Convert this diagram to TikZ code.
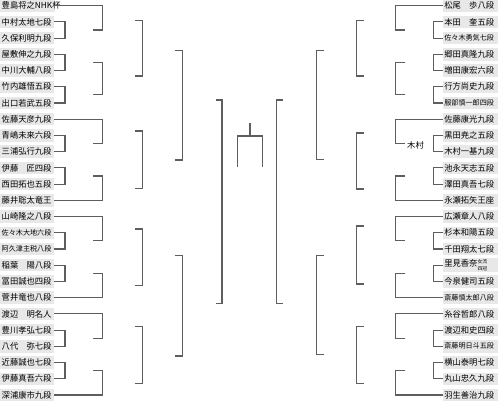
\documentclass[tikz,border=0pt]{standalone}
\usepackage{fontspec}
\usetikzlibrary{calc}
\newfontfamily\jp{Noto Sans CJK JP}
\definecolor{boxgray}{HTML}{E8E8E8}
\definecolor{lncol}{HTML}{5E5E5E}
\newcommand\mkpairL[2]{\draw[br] (L#1.east) -| (c1 |- L#2.east) -- (L#2.east);}
\newcommand\mkpairR[2]{\draw[br] (R#1.west) -| (c1r |- R#2.west) -- (R#2.west);}
\newcommand\grpAL[3]{\coordinate (mL#2) at ($(L#2.east)!.5!(L#3.east)$);
  \draw[br] (L#1.east) -| (c2 |- mL#2) -- (c2s |- mL#2);}
\newcommand\grpBL[4]{\coordinate (mL#1) at ($(L#1.east)!.5!(L#2.east)$);
  \coordinate (mL#3) at ($(L#3.east)!.5!(L#4.east)$);
  \draw[br] (c2s |- mL#1) -- (c2 |- mL#1) -- (c2 |- mL#3) -- (c2s |- mL#3);}
\newcommand\grpCL[3]{\coordinate (mL#1) at ($(L#1.east)!.5!(L#2.east)$);
  \draw[br] (c2s |- mL#1) -- (c2 |- mL#1) |- (L#3.east);}
\newcommand\grpAR[3]{\coordinate (mR#2) at ($(R#2.west)!.5!(R#3.west)$);
  \draw[br] (R#1.west) -| (c2r |- mR#2) -- (c2sr |- mR#2);}
\newcommand\grpBR[4]{\coordinate (mR#1) at ($(R#1.west)!.5!(R#2.west)$);
  \coordinate (mR#3) at ($(R#3.west)!.5!(R#4.west)$);
  \draw[br] (c2sr |- mR#1) -- (c2r |- mR#1) -- (c2r |- mR#3) -- (c2sr |- mR#3);}
\newcommand\grpCR[3]{\coordinate (mR#1) at ($(R#1.west)!.5!(R#2.west)$);
  \draw[br] (c2sr |- mR#1) -- (c2r |- mR#1) |- (R#3.west);}
\newcommand\bkt[4]{\draw[br] (#1,#3) -- (#2,#3) -- (#2,#4) -- (#1,#4);}
\begin{document}
\begin{tikzpicture}[x=1pt,y=-1pt,
  nm/.style={fill=boxgray, inner xsep=1.5pt, inner ysep=0pt, minimum height=12.5pt,
    text width=50.5pt, align=left, font=\jp\fontsize{8.3}{10}\selectfont, anchor=west},
  nmr/.style={nm, anchor=east, text width=52pt},
  sm/.style={font=\jp\fontsize{7.1}{9}\selectfont},
  br/.style={draw=lncol, line width=1.1pt}]
\useasboundingbox (0,0) rectangle (499,402);
% columns
\coordinate (c1) at (65,0);
\coordinate (c2) at (102.7,0);
\coordinate (c2s) at (93.3,0);
\coordinate (c1r) at (433.3,0);
\coordinate (c2r) at (395.5,0);
\coordinate (c2sr) at (405,0);
% left names
\node[nm, text width=52pt] (L0) at (0,5.7) {豊島将之NHK杯};
\node[nm] (L1) at (0,21.9) {中村太地七段};
\node[nm] (L2) at (0,38.1) {久保利明九段};
\node[nm] (L3) at (0,54.4) {屋敷伸之九段};
\node[nm] (L4) at (0,70.6) {中川大輔八段};
\node[nm] (L5) at (0,86.8) {竹内雄悟五段};
\node[nm] (L6) at (0,103.0) {出口若武五段};
\node[nm] (L7) at (0,119.2) {佐藤天彦九段};
\node[nm] (L8) at (0,135.5) {青嶋未来六段};
\node[nm] (L9) at (0,151.7) {三浦弘行九段};
\node[nm] (L10) at (0,167.9) {伊藤　匠四段};
\node[nm] (L11) at (0,184.1) {西田拓也五段};
\node[nm] (L12) at (0,200.3) {藤井聡太竜王};
\node[nm] (L13) at (0,216.6) {山崎隆之八段};
\node[nm, sm] (L14) at (0,232.8) {佐々木大地六段};
\node[nm, sm] (L15) at (0,249.0) {阿久津主税八段};
\node[nm] (L16) at (0,265.2) {稲葉　陽八段};
\node[nm] (L17) at (0,281.4) {冨田誠也四段};
\node[nm] (L18) at (0,297.7) {菅井竜也八段};
\node[nm] (L19) at (0,313.9) {渡辺　明名人};
\node[nm] (L20) at (0,330.1) {豊川孝弘七段};
\node[nm] (L21) at (0,346.3) {八代　弥七段};
\node[nm] (L22) at (0,362.5) {近藤誠也七段};
\node[nm] (L23) at (0,378.8) {伊藤真吾六段};
\node[nm] (L24) at (0,395.0) {深浦康市九段};
% right names
\node[nmr] (R0) at (498,5.7) {松尾　歩八段};
\node[nmr] (R1) at (498,21.9) {本田　奎五段};
\node[nmr, sm] (R2) at (498,38.1) {佐々木勇気七段};
\node[nmr] (R3) at (498,54.4) {郷田真隆九段};
\node[nmr] (R4) at (498,70.6) {増田康宏六段};
\node[nmr] (R5) at (498,86.8) {行方尚史九段};
\node[nmr, sm] (R6) at (498,103.0) {服部慎一郎四段};
\node[nmr] (R7) at (498,119.2) {佐藤康光九段};
\node[nmr] (R8) at (498,135.5) {黒田尭之五段};
\node[nmr] (R9) at (498,151.7) {木村一基九段};
\node[nmr] (R10) at (498,167.9) {池永天志五段};
\node[nmr] (R11) at (498,184.1) {澤田真吾七段};
\node[nmr] (R12) at (498,200.3) {永瀬拓矢王座};
\node[nmr] (R13) at (498,216.6) {広瀬章人八段};
\node[nmr] (R14) at (498,232.8) {杉本和陽五段};
\node[nmr] (R15) at (498,249.0) {千田翔太七段};
\node[nmr] (R16) at (498,265.2) {里見香奈{\fontsize{4.8}{7}\selectfont\begin{tabular}[c]{@{}c@{}}女流\\四冠\end{tabular}}};
\node[nmr] (R17) at (498,281.4) {今泉健司五段};
\node[nmr, sm] (R18) at (498,297.7) {斎藤慎太郎八段};
\node[nmr] (R19) at (498,313.9) {糸谷哲郎八段};
\node[nmr] (R20) at (498,330.1) {渡辺和史四段};
\node[nmr, sm] (R21) at (498,346.3) {斎藤明日斗五段};
\node[nmr] (R22) at (498,362.5) {横山泰明七段};
\node[nmr] (R23) at (498,378.8) {丸山忠久九段};
\node[nmr] (R24) at (498,395.0) {羽生善治九段};
% first round pairs
\mkpairL{1}{2}\mkpairL{3}{4}\mkpairL{5}{6}\mkpairL{8}{9}\mkpairL{10}{11}
\mkpairL{14}{15}\mkpairL{16}{17}\mkpairL{20}{21}\mkpairL{22}{23}
\mkpairR{1}{2}\mkpairR{3}{4}\mkpairR{5}{6}\mkpairR{8}{9}\mkpairR{10}{11}
\mkpairR{14}{15}\mkpairR{16}{17}\mkpairR{20}{21}\mkpairR{22}{23}
% second column
\grpAL{0}{1}{2}\grpBL{3}{4}{5}{6}\grpAL{7}{8}{9}\grpCL{10}{11}{12}
\grpAL{13}{14}{15}\grpCL{16}{17}{18}\grpAL{19}{20}{21}\grpCL{22}{23}{24}
\grpAR{0}{1}{2}\grpBR{3}{4}{5}{6}\grpAR{7}{8}{9}\grpCR{10}{11}{12}
\grpAR{13}{14}{15}\grpCR{16}{17}{18}\grpAR{19}{20}{21}\grpCR{22}{23}{24}
\node[anchor=west, inner sep=0pt, font=\jp\fontsize{8.3}{10}\selectfont] (kim) at (407,145.2) {木村};
% third column
\bkt{135}{142.3}{20.7}{76}
\bkt{135}{142.3}{131}{188.3}
\bkt{135}{142.3}{229}{285.7}
\bkt{135}{142.3}{326.7}{383.3}
\bkt{363.6}{356.3}{20.7}{76}
\bkt{363.6}{356.3}{133}{189}
\bkt{363.6}{356.3}{226}{284}
\bkt{363.6}{356.3}{326.4}{383.3}
% fourth column
\bkt{175}{182.3}{50.7}{160}
\bkt{175}{182.3}{255.7}{356}
\bkt{323.6}{316.3}{50.7}{159.3}
\bkt{323.6}{316.3}{255.7}{354.7}
% fifth column
\bkt{215.7}{222}{100}{303.3}
\bkt{283.3}{276.7}{100}{303.3}
% final
\draw[br] (250,123.3) -- (250,136);
\draw[br] (237.3,166.7) -- (237.3,136) -- (262.3,136) -- (262.3,166.7);
\end{tikzpicture}
\end{document}
